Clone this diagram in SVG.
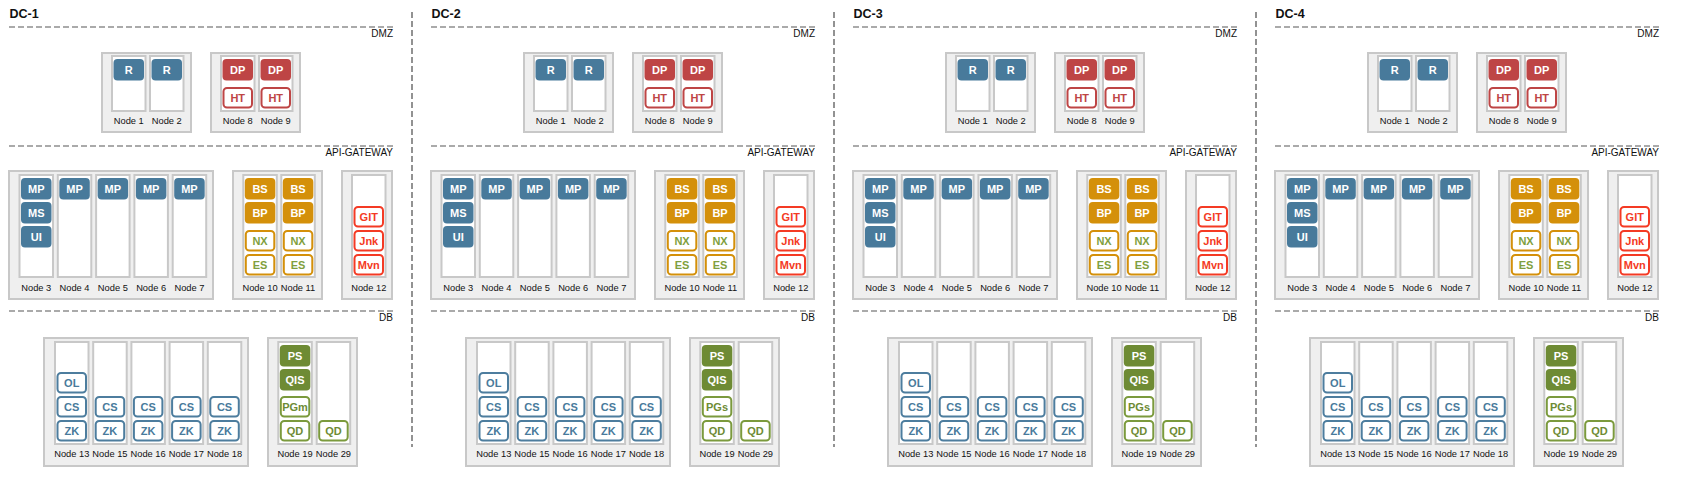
<svg xmlns="http://www.w3.org/2000/svg" width="1695" height="489" viewBox="0 0 1695 489">
<style>
.dc{font:bold 12.5px 'Liberation Sans',Arial,sans-serif;fill:#111}
.zl{stroke:#aaa;stroke-width:2;stroke-dasharray:6 3;fill:none}
.vl{stroke:#929292;stroke-width:2;stroke-dasharray:6 3;fill:none}
.zn{font:10px 'Liberation Sans',Arial,sans-serif;fill:#111;text-anchor:end}
.box{fill:#efefef;stroke:#c8c8c8;stroke-width:2}
.col{fill:#fff;stroke:#c8c8c8;stroke-width:2}
.nl{font:9.3px 'Liberation Sans',Arial,sans-serif;fill:#111;text-anchor:middle}
.bt{font:bold 11px 'Liberation Sans',Arial,sans-serif;text-anchor:middle}
.fb{fill:#487a9b}.fr{fill:#be4545}.fo{fill:#d4900a}.fg{fill:#6e8b34}
.ob{fill:#fff;stroke:#4d7d9e;stroke-width:2}.orr{fill:#fff;stroke:#be4545;stroke-width:2}
.oo{fill:#fff;stroke:#d4900a;stroke-width:2}.ox{fill:#fff;stroke:#f43a24;stroke-width:2}
.og{fill:#fff;stroke:#7b9a3d;stroke-width:2}
.tw{fill:#fff}.tb{fill:#487a9b}.tr{fill:#be4545}.tg{fill:#7f9f3e}.tx{fill:#f43a24}.tgd{fill:#6e8b34}
</style>
<g id="dividers">
<line class="vl" x1="412" y1="12" x2="412" y2="447"/>
<line class="vl" x1="834" y1="12" x2="834" y2="447"/>
<line class="vl" x1="1256" y1="12" x2="1256" y2="447"/>
</g>
<g id="connectors"/>

<g id="dc1" transform="translate(0,0)">
<text class="dc" x="9.5" y="17.5">DC-1</text>
<line class="zl" x1="9" y1="27" x2="393" y2="27"/><text class="zn" x="393" y="37">DMZ</text>
<line class="zl" x1="9" y1="146" x2="393" y2="146"/><text class="zn" x="393" y="156">API-GATEWAY</text>
<line class="zl" x1="9" y1="311" x2="393" y2="311"/><text class="zn" x="393" y="321">DB</text>
<g id="dc1-dmz-a"><rect class="box" x="102" y="53" width="89" height="79"/>
<g id="dc1-node1"><rect class="col" x="112" y="56" width="33.5" height="55"/><rect class="fb" x="113.5" y="59" width="30.5" height="21.5" rx="4"/><text class="bt tw" x="128.75" y="74">R</text><text class="nl" x="128.75" y="124">Node 1</text></g>
<g id="dc1-node2"><rect class="col" x="150" y="56" width="33.5" height="55"/><rect class="fb" x="151.5" y="59" width="30.5" height="21.5" rx="4"/><text class="bt tw" x="166.75" y="74">R</text><text class="nl" x="166.75" y="124">Node 2</text></g>
</g>
<g id="dc1-dmz-b"><rect class="box" x="211" y="53" width="89" height="79"/>
<g id="dc1-node8"><rect class="col" x="221" y="56" width="33.5" height="55"/><rect class="fr" x="222.5" y="59" width="30.5" height="21.5" rx="4"/><text class="bt tw" x="237.75" y="74">DP</text><rect class="orr" x="223.5" y="88" width="28.5" height="19.5" rx="3.5"/><text class="bt tr" x="237.75" y="102">HT</text><text class="nl" x="237.75" y="124">Node 8</text></g>
<g id="dc1-node9"><rect class="col" x="259" y="56" width="33.5" height="55"/><rect class="fr" x="260.5" y="59" width="30.5" height="21.5" rx="4"/><text class="bt tw" x="275.75" y="74">DP</text><rect class="orr" x="261.5" y="88" width="28.5" height="19.5" rx="3.5"/><text class="bt tr" x="275.75" y="102">HT</text><text class="nl" x="275.75" y="124">Node 9</text></g>
</g>
<g id="dc1-api-a"><rect class="box" x="9" y="171" width="204" height="128"/>
<g id="dc1-node3"><rect class="col" x="19.5" y="175" width="33.5" height="102"/><rect class="fb" x="21" y="178" width="30.5" height="21.5" rx="4"/><text class="bt tw" x="36.25" y="193">MP</text><rect class="fb" x="21" y="202" width="30.5" height="21.5" rx="4"/><text class="bt tw" x="36.25" y="217">MS</text><rect class="fb" x="21" y="226" width="30.5" height="21.5" rx="4"/><text class="bt tw" x="36.25" y="241">UI</text><text class="nl" x="36.25" y="291">Node 3</text></g>
<g id="dc1-node4"><rect class="col" x="57.8" y="175" width="33.5" height="102"/><rect class="fb" x="59.3" y="178" width="30.5" height="21.5" rx="4"/><text class="bt tw" x="74.55" y="193">MP</text><text class="nl" x="74.55" y="291">Node 4</text></g>
<g id="dc1-node5"><rect class="col" x="96.1" y="175" width="33.5" height="102"/><rect class="fb" x="97.6" y="178" width="30.5" height="21.5" rx="4"/><text class="bt tw" x="112.85" y="193">MP</text><text class="nl" x="112.85" y="291">Node 5</text></g>
<g id="dc1-node6"><rect class="col" x="134.4" y="175" width="33.5" height="102"/><rect class="fb" x="135.9" y="178" width="30.5" height="21.5" rx="4"/><text class="bt tw" x="151.15" y="193">MP</text><text class="nl" x="151.15" y="291">Node 6</text></g>
<g id="dc1-node7"><rect class="col" x="172.7" y="175" width="33.5" height="102"/><rect class="fb" x="174.2" y="178" width="30.5" height="21.5" rx="4"/><text class="bt tw" x="189.45" y="193">MP</text><text class="nl" x="189.45" y="291">Node 7</text></g>
</g>
<g id="dc1-api-b"><rect class="box" x="233" y="171" width="89" height="128"/>
<g id="dc1-node10"><rect class="col" x="243.3" y="175" width="33.5" height="102"/><rect class="fo" x="244.8" y="178" width="30.5" height="21.5" rx="4"/><text class="bt tw" x="260.05" y="193">BS</text><rect class="fo" x="244.8" y="202" width="30.5" height="21.5" rx="4"/><text class="bt tw" x="260.05" y="217">BP</text><rect class="oo" x="245.8" y="231" width="28.5" height="19.5" rx="3.5"/><text class="bt tg" x="260.05" y="245">NX</text><rect class="oo" x="245.8" y="255" width="28.5" height="19.5" rx="3.5"/><text class="bt tg" x="260.05" y="269">ES</text><text class="nl" x="260.05" y="291">Node 10</text></g>
<g id="dc1-node11"><rect class="col" x="281.3" y="175" width="33.5" height="102"/><rect class="fo" x="282.8" y="178" width="30.5" height="21.5" rx="4"/><text class="bt tw" x="298.05" y="193">BS</text><rect class="fo" x="282.8" y="202" width="30.5" height="21.5" rx="4"/><text class="bt tw" x="298.05" y="217">BP</text><rect class="oo" x="283.8" y="231" width="28.5" height="19.5" rx="3.5"/><text class="bt tg" x="298.05" y="245">NX</text><rect class="oo" x="283.8" y="255" width="28.5" height="19.5" rx="3.5"/><text class="bt tg" x="298.05" y="269">ES</text><text class="nl" x="298.05" y="291">Node 11</text></g>
</g>
<g id="dc1-api-c"><rect class="box" x="342" y="171" width="50" height="128"/>
<g id="dc1-node12"><rect class="col" x="352" y="175" width="33.5" height="102"/><rect class="ox" x="354.5" y="207" width="28.5" height="19.5" rx="3.5"/><text class="bt tx" x="368.75" y="221">GIT</text><rect class="ox" x="354.5" y="231" width="28.5" height="19.5" rx="3.5"/><text class="bt tx" x="368.75" y="245">Jnk</text><rect class="ox" x="354.5" y="255" width="28.5" height="19.5" rx="3.5"/><text class="bt tx" x="368.75" y="269">Mvn</text><text class="nl" x="368.75" y="291">Node 12</text></g>
</g>
<g id="dc1-db-a"><rect class="box" x="44" y="338" width="204" height="128"/>
<g id="dc1-node13"><rect class="col" x="55" y="342" width="33.5" height="102"/><rect class="ob" x="57.5" y="373" width="28.5" height="19.5" rx="3.5"/><text class="bt tb" x="71.75" y="387">OL</text><rect class="ob" x="57.5" y="397" width="28.5" height="19.5" rx="3.5"/><text class="bt tb" x="71.75" y="411">CS</text><rect class="ob" x="57.5" y="421" width="28.5" height="19.5" rx="3.5"/><text class="bt tb" x="71.75" y="435">ZK</text><text class="nl" x="71.75" y="457">Node 13</text></g>
<g id="dc1-node15"><rect class="col" x="93.2" y="342" width="33.5" height="102"/><rect class="ob" x="95.7" y="397" width="28.5" height="19.5" rx="3.5"/><text class="bt tb" x="109.95" y="411">CS</text><rect class="ob" x="95.7" y="421" width="28.5" height="19.5" rx="3.5"/><text class="bt tb" x="109.95" y="435">ZK</text><text class="nl" x="109.95" y="457">Node 15</text></g>
<g id="dc1-node16"><rect class="col" x="131.4" y="342" width="33.5" height="102"/><rect class="ob" x="133.9" y="397" width="28.5" height="19.5" rx="3.5"/><text class="bt tb" x="148.15" y="411">CS</text><rect class="ob" x="133.9" y="421" width="28.5" height="19.5" rx="3.5"/><text class="bt tb" x="148.15" y="435">ZK</text><text class="nl" x="148.15" y="457">Node 16</text></g>
<g id="dc1-node17"><rect class="col" x="169.6" y="342" width="33.5" height="102"/><rect class="ob" x="172.1" y="397" width="28.5" height="19.5" rx="3.5"/><text class="bt tb" x="186.35" y="411">CS</text><rect class="ob" x="172.1" y="421" width="28.5" height="19.5" rx="3.5"/><text class="bt tb" x="186.35" y="435">ZK</text><text class="nl" x="186.35" y="457">Node 17</text></g>
<g id="dc1-node18"><rect class="col" x="207.8" y="342" width="33.5" height="102"/><rect class="ob" x="210.3" y="397" width="28.5" height="19.5" rx="3.5"/><text class="bt tb" x="224.55" y="411">CS</text><rect class="ob" x="210.3" y="421" width="28.5" height="19.5" rx="3.5"/><text class="bt tb" x="224.55" y="435">ZK</text><text class="nl" x="224.55" y="457">Node 18</text></g>
</g>
<g id="dc1-db-b"><rect class="box" x="268" y="338" width="89" height="128"/>
<g id="dc1-node19"><rect class="col" x="278.3" y="342" width="33.5" height="102"/><rect class="fg" x="279.8" y="345" width="30.5" height="21.5" rx="4"/><text class="bt tw" x="295.05" y="360">PS</text><rect class="fg" x="279.8" y="369" width="30.5" height="21.5" rx="4"/><text class="bt tw" x="295.05" y="384">QIS</text><rect class="og" x="280.8" y="397" width="28.5" height="19.5" rx="3.5"/><text class="bt tgd" x="295.05" y="411">PGm</text><rect class="og" x="280.8" y="421" width="28.5" height="19.5" rx="3.5"/><text class="bt tgd" x="295.05" y="435">QD</text><text class="nl" x="295.05" y="457">Node 19</text></g>
<g id="dc1-node29"><rect class="col" x="316.7" y="342" width="33.5" height="102"/><rect class="og" x="319.2" y="421" width="28.5" height="19.5" rx="3.5"/><text class="bt tgd" x="333.45" y="435">QD</text><text class="nl" x="333.45" y="457">Node 29</text></g>
</g>
</g>

<g id="dc2" transform="translate(422,0)">
<text class="dc" x="9.5" y="17.5">DC-2</text>
<line class="zl" x1="9" y1="27" x2="393" y2="27"/><text class="zn" x="393" y="37">DMZ</text>
<line class="zl" x1="9" y1="146" x2="393" y2="146"/><text class="zn" x="393" y="156">API-GATEWAY</text>
<line class="zl" x1="9" y1="311" x2="393" y2="311"/><text class="zn" x="393" y="321">DB</text>
<g id="dc2-dmz-a"><rect class="box" x="102" y="53" width="89" height="79"/>
<g id="dc2-node1"><rect class="col" x="112" y="56" width="33.5" height="55"/><rect class="fb" x="113.5" y="59" width="30.5" height="21.5" rx="4"/><text class="bt tw" x="128.75" y="74">R</text><text class="nl" x="128.75" y="124">Node 1</text></g>
<g id="dc2-node2"><rect class="col" x="150" y="56" width="33.5" height="55"/><rect class="fb" x="151.5" y="59" width="30.5" height="21.5" rx="4"/><text class="bt tw" x="166.75" y="74">R</text><text class="nl" x="166.75" y="124">Node 2</text></g>
</g>
<g id="dc2-dmz-b"><rect class="box" x="211" y="53" width="89" height="79"/>
<g id="dc2-node8"><rect class="col" x="221" y="56" width="33.5" height="55"/><rect class="fr" x="222.5" y="59" width="30.5" height="21.5" rx="4"/><text class="bt tw" x="237.75" y="74">DP</text><rect class="orr" x="223.5" y="88" width="28.5" height="19.5" rx="3.5"/><text class="bt tr" x="237.75" y="102">HT</text><text class="nl" x="237.75" y="124">Node 8</text></g>
<g id="dc2-node9"><rect class="col" x="259" y="56" width="33.5" height="55"/><rect class="fr" x="260.5" y="59" width="30.5" height="21.5" rx="4"/><text class="bt tw" x="275.75" y="74">DP</text><rect class="orr" x="261.5" y="88" width="28.5" height="19.5" rx="3.5"/><text class="bt tr" x="275.75" y="102">HT</text><text class="nl" x="275.75" y="124">Node 9</text></g>
</g>
<g id="dc2-api-a"><rect class="box" x="9" y="171" width="204" height="128"/>
<g id="dc2-node3"><rect class="col" x="19.5" y="175" width="33.5" height="102"/><rect class="fb" x="21" y="178" width="30.5" height="21.5" rx="4"/><text class="bt tw" x="36.25" y="193">MP</text><rect class="fb" x="21" y="202" width="30.5" height="21.5" rx="4"/><text class="bt tw" x="36.25" y="217">MS</text><rect class="fb" x="21" y="226" width="30.5" height="21.5" rx="4"/><text class="bt tw" x="36.25" y="241">UI</text><text class="nl" x="36.25" y="291">Node 3</text></g>
<g id="dc2-node4"><rect class="col" x="57.8" y="175" width="33.5" height="102"/><rect class="fb" x="59.3" y="178" width="30.5" height="21.5" rx="4"/><text class="bt tw" x="74.55" y="193">MP</text><text class="nl" x="74.55" y="291">Node 4</text></g>
<g id="dc2-node5"><rect class="col" x="96.1" y="175" width="33.5" height="102"/><rect class="fb" x="97.6" y="178" width="30.5" height="21.5" rx="4"/><text class="bt tw" x="112.85" y="193">MP</text><text class="nl" x="112.85" y="291">Node 5</text></g>
<g id="dc2-node6"><rect class="col" x="134.4" y="175" width="33.5" height="102"/><rect class="fb" x="135.9" y="178" width="30.5" height="21.5" rx="4"/><text class="bt tw" x="151.15" y="193">MP</text><text class="nl" x="151.15" y="291">Node 6</text></g>
<g id="dc2-node7"><rect class="col" x="172.7" y="175" width="33.5" height="102"/><rect class="fb" x="174.2" y="178" width="30.5" height="21.5" rx="4"/><text class="bt tw" x="189.45" y="193">MP</text><text class="nl" x="189.45" y="291">Node 7</text></g>
</g>
<g id="dc2-api-b"><rect class="box" x="233" y="171" width="89" height="128"/>
<g id="dc2-node10"><rect class="col" x="243.3" y="175" width="33.5" height="102"/><rect class="fo" x="244.8" y="178" width="30.5" height="21.5" rx="4"/><text class="bt tw" x="260.05" y="193">BS</text><rect class="fo" x="244.8" y="202" width="30.5" height="21.5" rx="4"/><text class="bt tw" x="260.05" y="217">BP</text><rect class="oo" x="245.8" y="231" width="28.5" height="19.5" rx="3.5"/><text class="bt tg" x="260.05" y="245">NX</text><rect class="oo" x="245.8" y="255" width="28.5" height="19.5" rx="3.5"/><text class="bt tg" x="260.05" y="269">ES</text><text class="nl" x="260.05" y="291">Node 10</text></g>
<g id="dc2-node11"><rect class="col" x="281.3" y="175" width="33.5" height="102"/><rect class="fo" x="282.8" y="178" width="30.5" height="21.5" rx="4"/><text class="bt tw" x="298.05" y="193">BS</text><rect class="fo" x="282.8" y="202" width="30.5" height="21.5" rx="4"/><text class="bt tw" x="298.05" y="217">BP</text><rect class="oo" x="283.8" y="231" width="28.5" height="19.5" rx="3.5"/><text class="bt tg" x="298.05" y="245">NX</text><rect class="oo" x="283.8" y="255" width="28.5" height="19.5" rx="3.5"/><text class="bt tg" x="298.05" y="269">ES</text><text class="nl" x="298.05" y="291">Node 11</text></g>
</g>
<g id="dc2-api-c"><rect class="box" x="342" y="171" width="50" height="128"/>
<g id="dc2-node12"><rect class="col" x="352" y="175" width="33.5" height="102"/><rect class="ox" x="354.5" y="207" width="28.5" height="19.5" rx="3.5"/><text class="bt tx" x="368.75" y="221">GIT</text><rect class="ox" x="354.5" y="231" width="28.5" height="19.5" rx="3.5"/><text class="bt tx" x="368.75" y="245">Jnk</text><rect class="ox" x="354.5" y="255" width="28.5" height="19.5" rx="3.5"/><text class="bt tx" x="368.75" y="269">Mvn</text><text class="nl" x="368.75" y="291">Node 12</text></g>
</g>
<g id="dc2-db-a"><rect class="box" x="44" y="338" width="204" height="128"/>
<g id="dc2-node13"><rect class="col" x="55" y="342" width="33.5" height="102"/><rect class="ob" x="57.5" y="373" width="28.5" height="19.5" rx="3.5"/><text class="bt tb" x="71.75" y="387">OL</text><rect class="ob" x="57.5" y="397" width="28.5" height="19.5" rx="3.5"/><text class="bt tb" x="71.75" y="411">CS</text><rect class="ob" x="57.5" y="421" width="28.5" height="19.5" rx="3.5"/><text class="bt tb" x="71.75" y="435">ZK</text><text class="nl" x="71.75" y="457">Node 13</text></g>
<g id="dc2-node15"><rect class="col" x="93.2" y="342" width="33.5" height="102"/><rect class="ob" x="95.7" y="397" width="28.5" height="19.5" rx="3.5"/><text class="bt tb" x="109.95" y="411">CS</text><rect class="ob" x="95.7" y="421" width="28.5" height="19.5" rx="3.5"/><text class="bt tb" x="109.95" y="435">ZK</text><text class="nl" x="109.95" y="457">Node 15</text></g>
<g id="dc2-node16"><rect class="col" x="131.4" y="342" width="33.5" height="102"/><rect class="ob" x="133.9" y="397" width="28.5" height="19.5" rx="3.5"/><text class="bt tb" x="148.15" y="411">CS</text><rect class="ob" x="133.9" y="421" width="28.5" height="19.5" rx="3.5"/><text class="bt tb" x="148.15" y="435">ZK</text><text class="nl" x="148.15" y="457">Node 16</text></g>
<g id="dc2-node17"><rect class="col" x="169.6" y="342" width="33.5" height="102"/><rect class="ob" x="172.1" y="397" width="28.5" height="19.5" rx="3.5"/><text class="bt tb" x="186.35" y="411">CS</text><rect class="ob" x="172.1" y="421" width="28.5" height="19.5" rx="3.5"/><text class="bt tb" x="186.35" y="435">ZK</text><text class="nl" x="186.35" y="457">Node 17</text></g>
<g id="dc2-node18"><rect class="col" x="207.8" y="342" width="33.5" height="102"/><rect class="ob" x="210.3" y="397" width="28.5" height="19.5" rx="3.5"/><text class="bt tb" x="224.55" y="411">CS</text><rect class="ob" x="210.3" y="421" width="28.5" height="19.5" rx="3.5"/><text class="bt tb" x="224.55" y="435">ZK</text><text class="nl" x="224.55" y="457">Node 18</text></g>
</g>
<g id="dc2-db-b"><rect class="box" x="268" y="338" width="89" height="128"/>
<g id="dc2-node19"><rect class="col" x="278.3" y="342" width="33.5" height="102"/><rect class="fg" x="279.8" y="345" width="30.5" height="21.5" rx="4"/><text class="bt tw" x="295.05" y="360">PS</text><rect class="fg" x="279.8" y="369" width="30.5" height="21.5" rx="4"/><text class="bt tw" x="295.05" y="384">QIS</text><rect class="og" x="280.8" y="397" width="28.5" height="19.5" rx="3.5"/><text class="bt tgd" x="295.05" y="411">PGs</text><rect class="og" x="280.8" y="421" width="28.5" height="19.5" rx="3.5"/><text class="bt tgd" x="295.05" y="435">QD</text><text class="nl" x="295.05" y="457">Node 19</text></g>
<g id="dc2-node29"><rect class="col" x="316.7" y="342" width="33.5" height="102"/><rect class="og" x="319.2" y="421" width="28.5" height="19.5" rx="3.5"/><text class="bt tgd" x="333.45" y="435">QD</text><text class="nl" x="333.45" y="457">Node 29</text></g>
</g>
</g>

<g id="dc3" transform="translate(844,0)">
<text class="dc" x="9.5" y="17.5">DC-3</text>
<line class="zl" x1="9" y1="27" x2="393" y2="27"/><text class="zn" x="393" y="37">DMZ</text>
<line class="zl" x1="9" y1="146" x2="393" y2="146"/><text class="zn" x="393" y="156">API-GATEWAY</text>
<line class="zl" x1="9" y1="311" x2="393" y2="311"/><text class="zn" x="393" y="321">DB</text>
<g id="dc3-dmz-a"><rect class="box" x="102" y="53" width="89" height="79"/>
<g id="dc3-node1"><rect class="col" x="112" y="56" width="33.5" height="55"/><rect class="fb" x="113.5" y="59" width="30.5" height="21.5" rx="4"/><text class="bt tw" x="128.75" y="74">R</text><text class="nl" x="128.75" y="124">Node 1</text></g>
<g id="dc3-node2"><rect class="col" x="150" y="56" width="33.5" height="55"/><rect class="fb" x="151.5" y="59" width="30.5" height="21.5" rx="4"/><text class="bt tw" x="166.75" y="74">R</text><text class="nl" x="166.75" y="124">Node 2</text></g>
</g>
<g id="dc3-dmz-b"><rect class="box" x="211" y="53" width="89" height="79"/>
<g id="dc3-node8"><rect class="col" x="221" y="56" width="33.5" height="55"/><rect class="fr" x="222.5" y="59" width="30.5" height="21.5" rx="4"/><text class="bt tw" x="237.75" y="74">DP</text><rect class="orr" x="223.5" y="88" width="28.5" height="19.5" rx="3.5"/><text class="bt tr" x="237.75" y="102">HT</text><text class="nl" x="237.75" y="124">Node 8</text></g>
<g id="dc3-node9"><rect class="col" x="259" y="56" width="33.5" height="55"/><rect class="fr" x="260.5" y="59" width="30.5" height="21.5" rx="4"/><text class="bt tw" x="275.75" y="74">DP</text><rect class="orr" x="261.5" y="88" width="28.5" height="19.5" rx="3.5"/><text class="bt tr" x="275.75" y="102">HT</text><text class="nl" x="275.75" y="124">Node 9</text></g>
</g>
<g id="dc3-api-a"><rect class="box" x="9" y="171" width="204" height="128"/>
<g id="dc3-node3"><rect class="col" x="19.5" y="175" width="33.5" height="102"/><rect class="fb" x="21" y="178" width="30.5" height="21.5" rx="4"/><text class="bt tw" x="36.25" y="193">MP</text><rect class="fb" x="21" y="202" width="30.5" height="21.5" rx="4"/><text class="bt tw" x="36.25" y="217">MS</text><rect class="fb" x="21" y="226" width="30.5" height="21.5" rx="4"/><text class="bt tw" x="36.25" y="241">UI</text><text class="nl" x="36.25" y="291">Node 3</text></g>
<g id="dc3-node4"><rect class="col" x="57.8" y="175" width="33.5" height="102"/><rect class="fb" x="59.3" y="178" width="30.5" height="21.5" rx="4"/><text class="bt tw" x="74.55" y="193">MP</text><text class="nl" x="74.55" y="291">Node 4</text></g>
<g id="dc3-node5"><rect class="col" x="96.1" y="175" width="33.5" height="102"/><rect class="fb" x="97.6" y="178" width="30.5" height="21.5" rx="4"/><text class="bt tw" x="112.85" y="193">MP</text><text class="nl" x="112.85" y="291">Node 5</text></g>
<g id="dc3-node6"><rect class="col" x="134.4" y="175" width="33.5" height="102"/><rect class="fb" x="135.9" y="178" width="30.5" height="21.5" rx="4"/><text class="bt tw" x="151.15" y="193">MP</text><text class="nl" x="151.15" y="291">Node 6</text></g>
<g id="dc3-node7"><rect class="col" x="172.7" y="175" width="33.5" height="102"/><rect class="fb" x="174.2" y="178" width="30.5" height="21.5" rx="4"/><text class="bt tw" x="189.45" y="193">MP</text><text class="nl" x="189.45" y="291">Node 7</text></g>
</g>
<g id="dc3-api-b"><rect class="box" x="233" y="171" width="89" height="128"/>
<g id="dc3-node10"><rect class="col" x="243.3" y="175" width="33.5" height="102"/><rect class="fo" x="244.8" y="178" width="30.5" height="21.5" rx="4"/><text class="bt tw" x="260.05" y="193">BS</text><rect class="fo" x="244.8" y="202" width="30.5" height="21.5" rx="4"/><text class="bt tw" x="260.05" y="217">BP</text><rect class="oo" x="245.8" y="231" width="28.5" height="19.5" rx="3.5"/><text class="bt tg" x="260.05" y="245">NX</text><rect class="oo" x="245.8" y="255" width="28.5" height="19.5" rx="3.5"/><text class="bt tg" x="260.05" y="269">ES</text><text class="nl" x="260.05" y="291">Node 10</text></g>
<g id="dc3-node11"><rect class="col" x="281.3" y="175" width="33.5" height="102"/><rect class="fo" x="282.8" y="178" width="30.5" height="21.5" rx="4"/><text class="bt tw" x="298.05" y="193">BS</text><rect class="fo" x="282.8" y="202" width="30.5" height="21.5" rx="4"/><text class="bt tw" x="298.05" y="217">BP</text><rect class="oo" x="283.8" y="231" width="28.5" height="19.5" rx="3.5"/><text class="bt tg" x="298.05" y="245">NX</text><rect class="oo" x="283.8" y="255" width="28.5" height="19.5" rx="3.5"/><text class="bt tg" x="298.05" y="269">ES</text><text class="nl" x="298.05" y="291">Node 11</text></g>
</g>
<g id="dc3-api-c"><rect class="box" x="342" y="171" width="50" height="128"/>
<g id="dc3-node12"><rect class="col" x="352" y="175" width="33.5" height="102"/><rect class="ox" x="354.5" y="207" width="28.5" height="19.5" rx="3.5"/><text class="bt tx" x="368.75" y="221">GIT</text><rect class="ox" x="354.5" y="231" width="28.5" height="19.5" rx="3.5"/><text class="bt tx" x="368.75" y="245">Jnk</text><rect class="ox" x="354.5" y="255" width="28.5" height="19.5" rx="3.5"/><text class="bt tx" x="368.75" y="269">Mvn</text><text class="nl" x="368.75" y="291">Node 12</text></g>
</g>
<g id="dc3-db-a"><rect class="box" x="44" y="338" width="204" height="128"/>
<g id="dc3-node13"><rect class="col" x="55" y="342" width="33.5" height="102"/><rect class="ob" x="57.5" y="373" width="28.5" height="19.5" rx="3.5"/><text class="bt tb" x="71.75" y="387">OL</text><rect class="ob" x="57.5" y="397" width="28.5" height="19.5" rx="3.5"/><text class="bt tb" x="71.75" y="411">CS</text><rect class="ob" x="57.5" y="421" width="28.5" height="19.5" rx="3.5"/><text class="bt tb" x="71.75" y="435">ZK</text><text class="nl" x="71.75" y="457">Node 13</text></g>
<g id="dc3-node15"><rect class="col" x="93.2" y="342" width="33.5" height="102"/><rect class="ob" x="95.7" y="397" width="28.5" height="19.5" rx="3.5"/><text class="bt tb" x="109.95" y="411">CS</text><rect class="ob" x="95.7" y="421" width="28.5" height="19.5" rx="3.5"/><text class="bt tb" x="109.95" y="435">ZK</text><text class="nl" x="109.95" y="457">Node 15</text></g>
<g id="dc3-node16"><rect class="col" x="131.4" y="342" width="33.5" height="102"/><rect class="ob" x="133.9" y="397" width="28.5" height="19.5" rx="3.5"/><text class="bt tb" x="148.15" y="411">CS</text><rect class="ob" x="133.9" y="421" width="28.5" height="19.5" rx="3.5"/><text class="bt tb" x="148.15" y="435">ZK</text><text class="nl" x="148.15" y="457">Node 16</text></g>
<g id="dc3-node17"><rect class="col" x="169.6" y="342" width="33.5" height="102"/><rect class="ob" x="172.1" y="397" width="28.5" height="19.5" rx="3.5"/><text class="bt tb" x="186.35" y="411">CS</text><rect class="ob" x="172.1" y="421" width="28.5" height="19.5" rx="3.5"/><text class="bt tb" x="186.35" y="435">ZK</text><text class="nl" x="186.35" y="457">Node 17</text></g>
<g id="dc3-node18"><rect class="col" x="207.8" y="342" width="33.5" height="102"/><rect class="ob" x="210.3" y="397" width="28.5" height="19.5" rx="3.5"/><text class="bt tb" x="224.55" y="411">CS</text><rect class="ob" x="210.3" y="421" width="28.5" height="19.5" rx="3.5"/><text class="bt tb" x="224.55" y="435">ZK</text><text class="nl" x="224.55" y="457">Node 18</text></g>
</g>
<g id="dc3-db-b"><rect class="box" x="268" y="338" width="89" height="128"/>
<g id="dc3-node19"><rect class="col" x="278.3" y="342" width="33.5" height="102"/><rect class="fg" x="279.8" y="345" width="30.5" height="21.5" rx="4"/><text class="bt tw" x="295.05" y="360">PS</text><rect class="fg" x="279.8" y="369" width="30.5" height="21.5" rx="4"/><text class="bt tw" x="295.05" y="384">QIS</text><rect class="og" x="280.8" y="397" width="28.5" height="19.5" rx="3.5"/><text class="bt tgd" x="295.05" y="411">PGs</text><rect class="og" x="280.8" y="421" width="28.5" height="19.5" rx="3.5"/><text class="bt tgd" x="295.05" y="435">QD</text><text class="nl" x="295.05" y="457">Node 19</text></g>
<g id="dc3-node29"><rect class="col" x="316.7" y="342" width="33.5" height="102"/><rect class="og" x="319.2" y="421" width="28.5" height="19.5" rx="3.5"/><text class="bt tgd" x="333.45" y="435">QD</text><text class="nl" x="333.45" y="457">Node 29</text></g>
</g>
</g>

<g id="dc4" transform="translate(1266,0)">
<text class="dc" x="9.5" y="17.5">DC-4</text>
<line class="zl" x1="9" y1="27" x2="393" y2="27"/><text class="zn" x="393" y="37">DMZ</text>
<line class="zl" x1="9" y1="146" x2="393" y2="146"/><text class="zn" x="393" y="156">API-GATEWAY</text>
<line class="zl" x1="9" y1="311" x2="393" y2="311"/><text class="zn" x="393" y="321">DB</text>
<g id="dc4-dmz-a"><rect class="box" x="102" y="53" width="89" height="79"/>
<g id="dc4-node1"><rect class="col" x="112" y="56" width="33.5" height="55"/><rect class="fb" x="113.5" y="59" width="30.5" height="21.5" rx="4"/><text class="bt tw" x="128.75" y="74">R</text><text class="nl" x="128.75" y="124">Node 1</text></g>
<g id="dc4-node2"><rect class="col" x="150" y="56" width="33.5" height="55"/><rect class="fb" x="151.5" y="59" width="30.5" height="21.5" rx="4"/><text class="bt tw" x="166.75" y="74">R</text><text class="nl" x="166.75" y="124">Node 2</text></g>
</g>
<g id="dc4-dmz-b"><rect class="box" x="211" y="53" width="89" height="79"/>
<g id="dc4-node8"><rect class="col" x="221" y="56" width="33.5" height="55"/><rect class="fr" x="222.5" y="59" width="30.5" height="21.5" rx="4"/><text class="bt tw" x="237.75" y="74">DP</text><rect class="orr" x="223.5" y="88" width="28.5" height="19.5" rx="3.5"/><text class="bt tr" x="237.75" y="102">HT</text><text class="nl" x="237.75" y="124">Node 8</text></g>
<g id="dc4-node9"><rect class="col" x="259" y="56" width="33.5" height="55"/><rect class="fr" x="260.5" y="59" width="30.5" height="21.5" rx="4"/><text class="bt tw" x="275.75" y="74">DP</text><rect class="orr" x="261.5" y="88" width="28.5" height="19.5" rx="3.5"/><text class="bt tr" x="275.75" y="102">HT</text><text class="nl" x="275.75" y="124">Node 9</text></g>
</g>
<g id="dc4-api-a"><rect class="box" x="9" y="171" width="204" height="128"/>
<g id="dc4-node3"><rect class="col" x="19.5" y="175" width="33.5" height="102"/><rect class="fb" x="21" y="178" width="30.5" height="21.5" rx="4"/><text class="bt tw" x="36.25" y="193">MP</text><rect class="fb" x="21" y="202" width="30.5" height="21.5" rx="4"/><text class="bt tw" x="36.25" y="217">MS</text><rect class="fb" x="21" y="226" width="30.5" height="21.5" rx="4"/><text class="bt tw" x="36.25" y="241">UI</text><text class="nl" x="36.25" y="291">Node 3</text></g>
<g id="dc4-node4"><rect class="col" x="57.8" y="175" width="33.5" height="102"/><rect class="fb" x="59.3" y="178" width="30.5" height="21.5" rx="4"/><text class="bt tw" x="74.55" y="193">MP</text><text class="nl" x="74.55" y="291">Node 4</text></g>
<g id="dc4-node5"><rect class="col" x="96.1" y="175" width="33.5" height="102"/><rect class="fb" x="97.6" y="178" width="30.5" height="21.5" rx="4"/><text class="bt tw" x="112.85" y="193">MP</text><text class="nl" x="112.85" y="291">Node 5</text></g>
<g id="dc4-node6"><rect class="col" x="134.4" y="175" width="33.5" height="102"/><rect class="fb" x="135.9" y="178" width="30.5" height="21.5" rx="4"/><text class="bt tw" x="151.15" y="193">MP</text><text class="nl" x="151.15" y="291">Node 6</text></g>
<g id="dc4-node7"><rect class="col" x="172.7" y="175" width="33.5" height="102"/><rect class="fb" x="174.2" y="178" width="30.5" height="21.5" rx="4"/><text class="bt tw" x="189.45" y="193">MP</text><text class="nl" x="189.45" y="291">Node 7</text></g>
</g>
<g id="dc4-api-b"><rect class="box" x="233" y="171" width="89" height="128"/>
<g id="dc4-node10"><rect class="col" x="243.3" y="175" width="33.5" height="102"/><rect class="fo" x="244.8" y="178" width="30.5" height="21.5" rx="4"/><text class="bt tw" x="260.05" y="193">BS</text><rect class="fo" x="244.8" y="202" width="30.5" height="21.5" rx="4"/><text class="bt tw" x="260.05" y="217">BP</text><rect class="oo" x="245.8" y="231" width="28.5" height="19.5" rx="3.5"/><text class="bt tg" x="260.05" y="245">NX</text><rect class="oo" x="245.8" y="255" width="28.5" height="19.5" rx="3.5"/><text class="bt tg" x="260.05" y="269">ES</text><text class="nl" x="260.05" y="291">Node 10</text></g>
<g id="dc4-node11"><rect class="col" x="281.3" y="175" width="33.5" height="102"/><rect class="fo" x="282.8" y="178" width="30.5" height="21.5" rx="4"/><text class="bt tw" x="298.05" y="193">BS</text><rect class="fo" x="282.8" y="202" width="30.5" height="21.5" rx="4"/><text class="bt tw" x="298.05" y="217">BP</text><rect class="oo" x="283.8" y="231" width="28.5" height="19.5" rx="3.5"/><text class="bt tg" x="298.05" y="245">NX</text><rect class="oo" x="283.8" y="255" width="28.5" height="19.5" rx="3.5"/><text class="bt tg" x="298.05" y="269">ES</text><text class="nl" x="298.05" y="291">Node 11</text></g>
</g>
<g id="dc4-api-c"><rect class="box" x="342" y="171" width="50" height="128"/>
<g id="dc4-node12"><rect class="col" x="352" y="175" width="33.5" height="102"/><rect class="ox" x="354.5" y="207" width="28.5" height="19.5" rx="3.5"/><text class="bt tx" x="368.75" y="221">GIT</text><rect class="ox" x="354.5" y="231" width="28.5" height="19.5" rx="3.5"/><text class="bt tx" x="368.75" y="245">Jnk</text><rect class="ox" x="354.5" y="255" width="28.5" height="19.5" rx="3.5"/><text class="bt tx" x="368.75" y="269">Mvn</text><text class="nl" x="368.75" y="291">Node 12</text></g>
</g>
<g id="dc4-db-a"><rect class="box" x="44" y="338" width="204" height="128"/>
<g id="dc4-node13"><rect class="col" x="55" y="342" width="33.5" height="102"/><rect class="ob" x="57.5" y="373" width="28.5" height="19.5" rx="3.5"/><text class="bt tb" x="71.75" y="387">OL</text><rect class="ob" x="57.5" y="397" width="28.5" height="19.5" rx="3.5"/><text class="bt tb" x="71.75" y="411">CS</text><rect class="ob" x="57.5" y="421" width="28.5" height="19.5" rx="3.5"/><text class="bt tb" x="71.75" y="435">ZK</text><text class="nl" x="71.75" y="457">Node 13</text></g>
<g id="dc4-node15"><rect class="col" x="93.2" y="342" width="33.5" height="102"/><rect class="ob" x="95.7" y="397" width="28.5" height="19.5" rx="3.5"/><text class="bt tb" x="109.95" y="411">CS</text><rect class="ob" x="95.7" y="421" width="28.5" height="19.5" rx="3.5"/><text class="bt tb" x="109.95" y="435">ZK</text><text class="nl" x="109.95" y="457">Node 15</text></g>
<g id="dc4-node16"><rect class="col" x="131.4" y="342" width="33.5" height="102"/><rect class="ob" x="133.9" y="397" width="28.5" height="19.5" rx="3.5"/><text class="bt tb" x="148.15" y="411">CS</text><rect class="ob" x="133.9" y="421" width="28.5" height="19.5" rx="3.5"/><text class="bt tb" x="148.15" y="435">ZK</text><text class="nl" x="148.15" y="457">Node 16</text></g>
<g id="dc4-node17"><rect class="col" x="169.6" y="342" width="33.5" height="102"/><rect class="ob" x="172.1" y="397" width="28.5" height="19.5" rx="3.5"/><text class="bt tb" x="186.35" y="411">CS</text><rect class="ob" x="172.1" y="421" width="28.5" height="19.5" rx="3.5"/><text class="bt tb" x="186.35" y="435">ZK</text><text class="nl" x="186.35" y="457">Node 17</text></g>
<g id="dc4-node18"><rect class="col" x="207.8" y="342" width="33.5" height="102"/><rect class="ob" x="210.3" y="397" width="28.5" height="19.5" rx="3.5"/><text class="bt tb" x="224.55" y="411">CS</text><rect class="ob" x="210.3" y="421" width="28.5" height="19.5" rx="3.5"/><text class="bt tb" x="224.55" y="435">ZK</text><text class="nl" x="224.55" y="457">Node 18</text></g>
</g>
<g id="dc4-db-b"><rect class="box" x="268" y="338" width="89" height="128"/>
<g id="dc4-node19"><rect class="col" x="278.3" y="342" width="33.5" height="102"/><rect class="fg" x="279.8" y="345" width="30.5" height="21.5" rx="4"/><text class="bt tw" x="295.05" y="360">PS</text><rect class="fg" x="279.8" y="369" width="30.5" height="21.5" rx="4"/><text class="bt tw" x="295.05" y="384">QIS</text><rect class="og" x="280.8" y="397" width="28.5" height="19.5" rx="3.5"/><text class="bt tgd" x="295.05" y="411">PGs</text><rect class="og" x="280.8" y="421" width="28.5" height="19.5" rx="3.5"/><text class="bt tgd" x="295.05" y="435">QD</text><text class="nl" x="295.05" y="457">Node 19</text></g>
<g id="dc4-node29"><rect class="col" x="316.7" y="342" width="33.5" height="102"/><rect class="og" x="319.2" y="421" width="28.5" height="19.5" rx="3.5"/><text class="bt tgd" x="333.45" y="435">QD</text><text class="nl" x="333.45" y="457">Node 29</text></g>
</g>
</g>
</svg>
